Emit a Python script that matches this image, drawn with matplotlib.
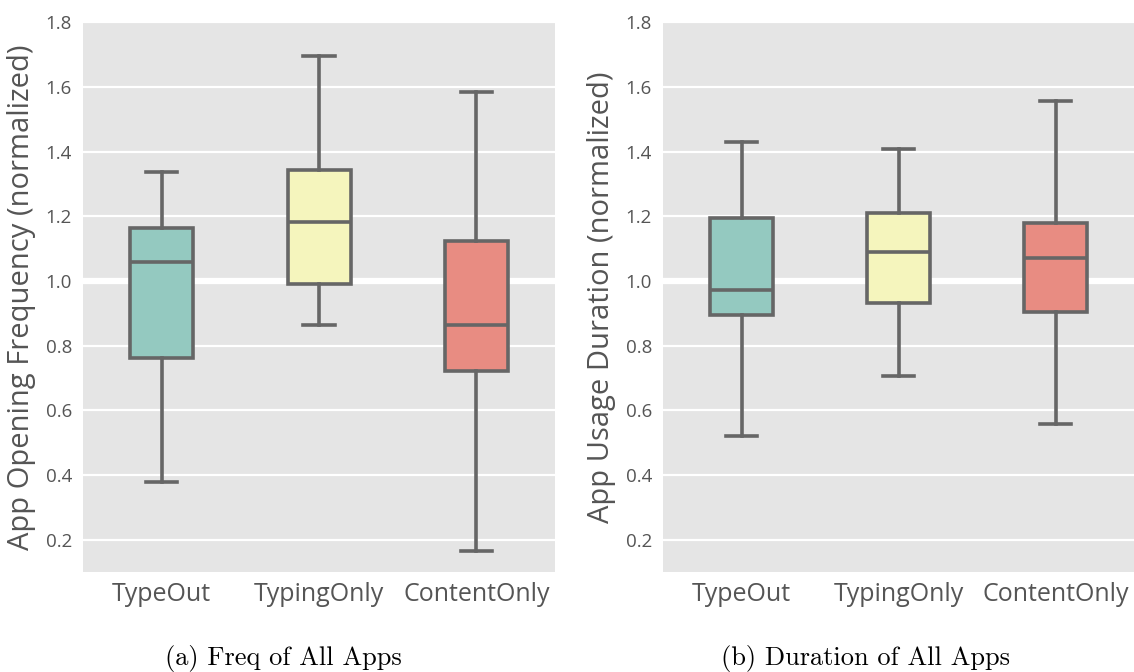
import matplotlib.pyplot as plt

categories = ['TypeOut', 'TypingOnly', 'ContentOnly']
colors = ['#94c9c0', '#f5f5bd', '#e88c82']

# five-number summaries: low whisker, q1, median, q3, high whisker
freq_stats = [
    [0.377, 0.760, 1.059, 1.164, 1.337],
    [0.862, 0.991, 1.183, 1.343, 1.695],
    [0.164, 0.720, 0.865, 1.124, 1.584],
]
dur_stats = [
    [0.519, 0.893, 0.973, 1.195, 1.430],
    [0.707, 0.930, 1.090, 1.210, 1.408],
    [0.556, 0.905, 1.072, 1.180, 1.556],
]
ylabels = ['App Opening Frequency (normalized)', 'App Usage Duration (normalized)']
captions = ['(a) Freq of All Apps', '(b) Duration of All Apps']

plt.rcParams['font.family'] = ['Open Sans', 'DejaVu Sans']

fig = plt.figure(figsize=(11.34, 6.72), dpi=100)
axes = [fig.add_axes([0.0732, 0.149, 0.4163, 0.818]),
        fig.add_axes([0.5847, 0.149, 0.4153, 0.818])]
caption_x = [0.2496, 0.763]

edge = '#666666'
lw = 2.6

for ax, stats, ylab, cap, cx in zip(axes, [freq_stats, dur_stats], ylabels,
                                    captions, caption_x):
    ax.set_facecolor('#e5e5e5')
    for s in ax.spines.values():
        s.set_visible(False)
    bx = [dict(whislo=s[0], q1=s[1], med=s[2], q3=s[3], whishi=s[4], fliers=[])
          for s in stats]
    parts = ax.bxp(bx, positions=range(3), widths=0.4, patch_artist=True,
                   showfliers=False,
                   boxprops=dict(edgecolor=edge, linewidth=lw),
                   medianprops=dict(color=edge, linewidth=lw),
                   whiskerprops=dict(color=edge, linewidth=lw),
                   capprops=dict(color=edge, linewidth=lw),
                   zorder=3)
    for patch, c in zip(parts['boxes'], colors):
        patch.set_facecolor(c)

    ax.set_xlim(-0.5, 2.5)
    ax.set_ylim(0.1, 1.8)
    ticks = [0.2, 0.4, 0.6, 0.8, 1.0, 1.2, 1.4, 1.6, 1.8]
    ax.set_yticks(ticks)
    ax.set_yticklabels([f'{t:.1f}' for t in ticks])
    for t in ticks:
        ax.axhline(t, color='white', linewidth=4.5 if t == 1.0 else 1.6, zorder=1)
    ax.set_xticks(range(3))
    ax.set_xticklabels(categories)
    ax.tick_params(axis='both', length=0, colors='#555555')
    ax.tick_params(axis='y', labelsize=13.5, pad=8)
    ax.tick_params(axis='x', labelsize=18, pad=7)
    ax.set_ylabel(ylab, fontsize=21, color='#555555', labelpad=7)

    # caption under each panel
    fig.text(cx, 0.01, cap, ha='center', va='baseline', fontsize=19,
             family='cmr10', color='black')

fig.savefig('out.png', dpi=100)
